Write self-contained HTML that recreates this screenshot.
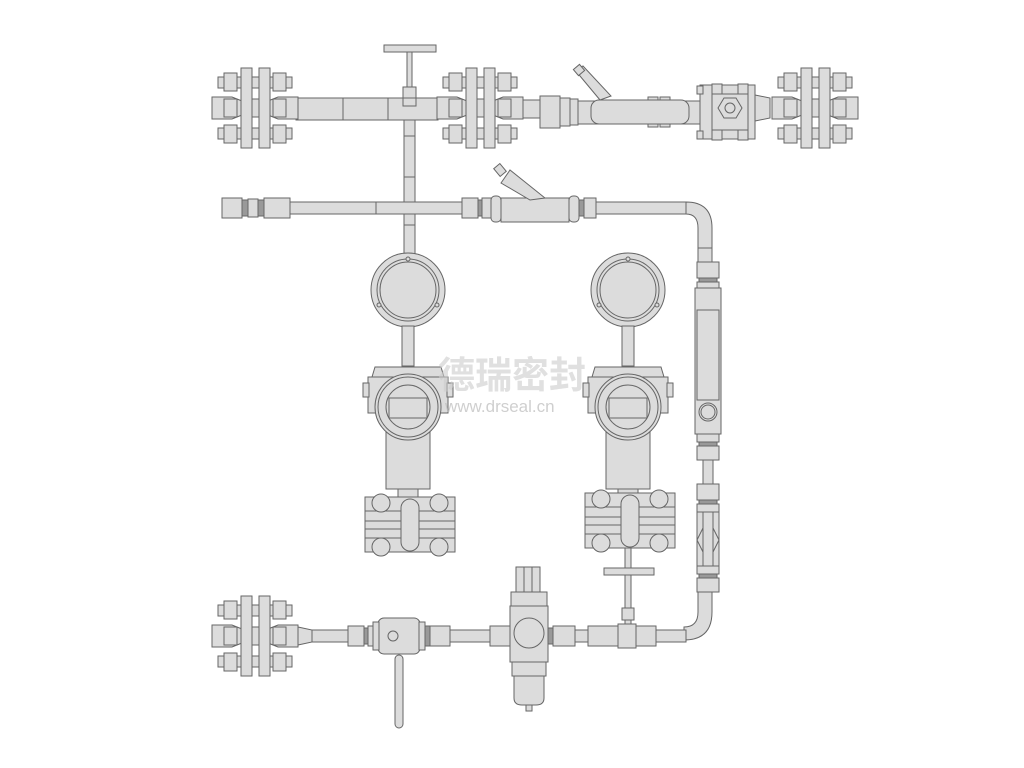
<!DOCTYPE html>
<html><head><meta charset="utf-8"><style>
html,body{margin:0;padding:0;background:#fff;}
svg{display:block}
</style></head><body>
<svg width="1024" height="768" viewBox="0 0 1024 768" xmlns="http://www.w3.org/2000/svg">
<defs>
<g id="fl" fill="#dcdcdc" stroke="#666" stroke-width="1">
  <rect x="6" y="-31" width="74" height="11"/>
  <rect x="6" y="20" width="74" height="11"/>
  <rect x="12" y="-35" width="13" height="18"/><rect x="61" y="-35" width="13" height="18"/>
  <rect x="12" y="17" width="13" height="18"/><rect x="61" y="17" width="13" height="18"/>
  <path d="M0,-11 L20,-11 L30,-7 L30,7 L20,11 L0,11 Z"/>
  <path d="M86,-11 L66,-11 L56,-7 L56,7 L66,11 L86,11 Z"/>
  <rect x="12" y="-9" width="13" height="18"/><rect x="61" y="-9" width="13" height="18"/>
  <rect x="40" y="-9" width="7" height="18"/>
  <rect x="29" y="-40" width="11" height="80"/>
  <rect x="47" y="-40" width="11" height="80"/>
</g>
<g id="fit" fill="#dcdcdc" stroke="#666" stroke-width="1">
  <rect x="0" y="-10" width="16" height="20"/>
  <rect x="16" y="-8" width="4" height="16" fill="#999"/>
  <rect x="20" y="-10" width="10" height="20"/>
</g>
<g id="fitv" fill="#dcdcdc" stroke="#666" stroke-width="1">
  <rect x="-11" y="0" width="22" height="16"/>
  <rect x="-9" y="16" width="18" height="4" fill="#999"/>
  <rect x="-11" y="20" width="22" height="8"/>
</g>
<g id="man" fill="#dcdcdc" stroke="#666" stroke-width="1">
  <rect x="0" y="0" width="90" height="55"/>
  <line x1="0" y1="14" x2="90" y2="14"/><line x1="0" y1="24" x2="90" y2="24"/>
  <line x1="0" y1="32" x2="90" y2="32"/><line x1="0" y1="41" x2="90" y2="41"/>
  <circle cx="16" cy="6" r="9"/><circle cx="74" cy="6" r="9"/>
  <circle cx="16" cy="50" r="9"/><circle cx="74" cy="50" r="9"/>
  <rect x="36" y="2" width="18" height="52" rx="9"/>
</g>
<g id="tx" fill="#dcdcdc" stroke="#666" stroke-width="1">
  <circle cx="0" cy="0" r="37"/><circle cx="0" cy="0" r="31"/><circle cx="0" cy="0" r="28"/>
  <circle cx="0" cy="-31" r="2"/><circle cx="-29" cy="15" r="2"/><circle cx="29" cy="15" r="2"/>
  <rect x="-6" y="36" width="12" height="40"/>
  <path d="M-33,77 L33,77 L36,87 L-36,87 Z"/>
  <rect x="-40" y="87" width="80" height="36"/>
  <rect x="-45" y="93" width="6" height="14"/><rect x="39" y="93" width="6" height="14"/>
  <rect x="-22" y="135" width="44" height="64"/>
  <circle cx="0" cy="117" r="33"/><circle cx="0" cy="117" r="30"/><circle cx="0" cy="117" r="22"/>
  <rect x="-19" y="108" width="38" height="20"/>
  <rect x="-10" y="199" width="20" height="8"/>
</g>
</defs>

<g fill="#dcdcdc" stroke="#666" stroke-width="1">
<!-- top row pipes -->
<rect x="296" y="98" width="142" height="22"/>
<line x1="343" y1="98" x2="343" y2="120"/><line x1="388" y1="98" x2="388" y2="120"/>
<rect x="523" y="100" width="20" height="18"/>
<!-- vertical tube from top valve -->
<rect x="404" y="120" width="11" height="138"/>
<line x1="404" y1="136" x2="415" y2="136"/><line x1="404" y1="177" x2="415" y2="177"/><line x1="404" y1="225" x2="415" y2="225"/>
<rect x="384" y="45" width="52" height="7"/>
<rect x="407" y="52" width="5" height="36"/>
<rect x="403" y="87" width="13" height="11"/>
<rect x="403" y="98" width="13" height="8"/>

<use href="#fl" x="212" y="108"/>
<use href="#fl" x="437" y="108"/>
<use href="#fl" x="772" y="108"/>

<!-- top right valve assembly -->
<path d="M575,70 L583,66 L611,96 L600,100 Z"/>
<rect x="575" y="66" width="8" height="8" transform="rotate(-40 579 70)"/>
<rect x="540" y="96" width="20" height="32"/>
<rect x="560" y="98" width="10" height="28"/>
<rect x="570" y="99" width="8" height="26"/>
<rect x="578" y="101" width="122" height="23"/>
<rect x="648" y="97" width="10" height="30"/><rect x="660" y="97" width="10" height="30"/>
<rect x="591" y="100" width="98" height="24" rx="8"/>
<rect x="700" y="85" width="55" height="54"/>
<rect x="697" y="86" width="6" height="8"/><rect x="697" y="131" width="6" height="8"/>
<rect x="712" y="84" width="10" height="10"/><rect x="738" y="84" width="10" height="10"/>
<rect x="712" y="130" width="10" height="10"/><rect x="738" y="130" width="10" height="10"/>
<rect x="712" y="94" width="36" height="36"/>
<polygon points="718,108 724,98 736,98 742,108 736,118 724,118"/>
<circle cx="730" cy="108" r="5"/>
<path d="M755,95 L770,98 L770,118 L755,121 Z"/>

<!-- second row -->
<rect x="290" y="202" width="172" height="12"/>
<line x1="376" y1="202" x2="376" y2="214"/>
<rect x="222" y="198" width="20" height="20"/>
<rect x="242" y="200" width="6" height="16" fill="#999"/>
<rect x="248" y="199" width="10" height="18"/>
<rect x="258" y="200" width="6" height="16" fill="#999"/>
<rect x="264" y="198" width="26" height="20"/>
<use href="#fit" x="462" y="208"/>
<rect x="491" y="196" width="10" height="26" rx="4"/>
<rect x="501" y="198" width="68" height="24"/>
<path d="M501,183 L510,170 L545,198 L530,200 Z"/>
<rect x="496" y="165" width="8" height="10" transform="rotate(-40 500 170)"/>
<rect x="569" y="196" width="10" height="26" rx="4"/>
<rect x="579" y="200" width="5" height="16" fill="#999"/>
<rect x="584" y="198" width="12" height="20"/>
<rect x="596" y="202" width="90" height="12"/>
<path d="M686,202 Q712,202 712,228 L712,262 L698,262 L698,228 Q698,214 686,214 Z"/>
<rect x="698" y="248" width="14" height="14"/>

<!-- right vertical line -->
<use href="#fitv" x="708" y="262"/>
<rect x="695" y="288" width="26" height="146"/>
<rect x="697" y="310" width="22" height="90"/>
<circle cx="708" cy="412" r="9"/><circle cx="708" cy="412" r="7"/>
<rect x="697" y="434" width="22" height="8"/>
<rect x="699" y="442" width="18" height="4" fill="#999"/>
<rect x="697" y="446" width="22" height="14"/>
<rect x="703" y="460" width="10" height="24"/>
<use href="#fitv" x="708" y="484"/>
<rect x="697" y="512" width="22" height="54"/>
<rect x="703" y="512" width="10" height="54"/>
<path d="M697,540 L703,528 M697,540 L703,552 M719,540 L713,528 M719,540 L713,552" fill="none"/>
<rect x="697" y="566" width="22" height="8"/>
<rect x="699" y="574" width="18" height="4" fill="#999"/>
<rect x="697" y="578" width="22" height="14"/>
<path d="M698,592 L712,592 L712,612 Q712,640 684,640 L684,627 Q698,627 698,612 Z"/>

<!-- transmitters -->
<use href="#tx" x="408" y="290"/>
<use href="#tx" x="628" y="290"/>
<use href="#man" x="365" y="497"/>
<use href="#man" x="585" y="493"/>

<!-- stem under right manifold -->
<rect x="625" y="548" width="6" height="82"/>
<rect x="604" y="568" width="50" height="7"/>
<rect x="622" y="608" width="12" height="12"/>

<!-- bottom row -->
<use href="#fl" x="212" y="636"/>
<rect x="298" y="630" width="52" height="12"/>
<path d="M298,627 L312,630 L312,642 L298,645 Z"/>
<use href="#fit" x="348" y="636"/>
<rect x="378" y="618" width="42" height="36" rx="6"/>
<rect x="373" y="622" width="6" height="28"/><rect x="419" y="622" width="6" height="28"/>
<circle cx="393" cy="636" r="5"/>
<rect x="395" y="655" width="8" height="73" rx="4"/>
<rect x="425" y="626" width="5" height="20" fill="#999"/>
<rect x="430" y="626" width="20" height="20"/>
<rect x="450" y="630" width="42" height="12"/>
<rect x="490" y="626" width="20" height="20"/>
<rect x="510" y="628" width="5" height="16" fill="#999"/>
<rect x="516" y="567" width="24" height="25"/>
<line x1="524" y1="567" x2="524" y2="592"/><line x1="532" y1="567" x2="532" y2="592"/>
<rect x="511" y="592" width="36" height="14"/>
<rect x="510" y="606" width="38" height="56"/>
<circle cx="529" cy="633" r="15"/>
<rect x="512" y="662" width="34" height="14"/>
<path d="M514,676 L544,676 L544,698 Q544,705 536,705 L522,705 Q514,705 514,698 Z"/>
<rect x="526" y="705" width="6" height="6"/>
<rect x="548" y="628" width="5" height="16" fill="#999"/>
<rect x="553" y="626" width="22" height="20"/>
<rect x="575" y="630" width="14" height="12"/>
<rect x="588" y="626" width="30" height="20"/>
<rect x="618" y="624" width="18" height="24"/>
<rect x="636" y="626" width="20" height="20"/>
<rect x="656" y="630" width="30" height="12"/>
</g>

<!-- watermark -->
<text x="438" y="388" font-family="'Liberation Sans','Noto Sans CJK SC',sans-serif" font-size="37" font-weight="bold" fill="#ccc" fill-opacity="0.6">德瑞密封</text>
<text x="445" y="412" font-family="'Liberation Sans',sans-serif" font-size="17" fill="#bbb" fill-opacity="0.7">www.drseal.cn</text>
</svg>
</body></html>
